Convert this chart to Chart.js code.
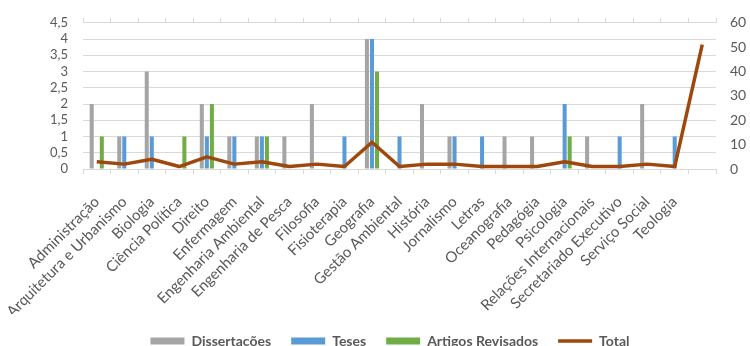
<!DOCTYPE html>
<html>
<head>
<meta charset="utf-8">
<script src="https://cdn.jsdelivr.net/npm/chart.js@4"></script>
<style>
  html, body { margin: 0; padding: 0; background: #fff; }
  #wrap { width: 750px; height: 346px; position: relative; }
</style>
</head>
<body>
<div id="wrap"><canvas id="chart"></canvas></div>
<script>
// cursos
const categories = ['Administração', 'Arquitetura e Urbanismo', 'Biologia', 'Ciência Política', 'Direito',
    'Enfermagem', 'Engenharia Ambiental', 'Engenharia de Pesca', 'Filosofia', 'Fisioterapia', 'Geografia',
    'Gestão Ambiental', 'História', 'Jornalismo', 'Letras', 'Oceanografia', 'Pedagógia', 'Psicologia',
    'Relações Internacionais', 'Secretariado Executivo', 'Serviço Social', 'Teologia', ''];

const dissertacoes = [2, 1, 3, 0, 2, 1, 1, 1, 2, 0, 4, 0, 2, 1, 0, 1, 1, 0, 1, 0, 2, 0, null];
const teses        = [0, 1, 1, 0, 1, 1, 1, 0, 0, 1, 4, 1, 0, 1, 1, 0, 0, 2, 0, 1, 0, 1, null];
const artigos      = [1, 0, 0, 1, 2, 0, 1, 0, 0, 0, 3, 0, 0, 0, 0, 0, 0, 1, 0, 0, 0, 0, null];
const total        = [3, 2, 4, 1, 5, 2, 3, 1, 2, 1, 11, 1, 2, 2, 1, 1, 1, 3, 1, 1, 2, 1, 51];

const leftTicks = [0, 0.5, 1, 1.5, 2, 2.5, 3, 3.5, 4, 4.5];
const rightTicks = [0, 10, 20, 30, 40, 50, 60];

const textColor = '#595959';
const gridColor = '#D9D9D9';
const fontFamily = 'Lato, "Open Sans", sans-serif';

function barSet(label, data, color) {
    return {
        type: 'bar',
        label: label,
        data: data,
        backgroundColor: color,
        borderWidth: 0,
        yAxisID: 'y',
        order: 1,
        categoryPercentage: 0.55,
        barPercentage: 0.8
    };
}

const ctx = document.getElementById('chart').getContext('2d');
new Chart(ctx, {
    type: 'bar',
    data: {
        labels: categories,
        datasets: [
            barSet('Dissertações', dissertacoes, '#A5A5A5'),
            barSet('Teses', teses, '#5B9BD5'),
            barSet('Artigos Revisados', artigos, '#70AD47'),
            {
                type: 'line',
                label: 'Total',
                data: total,
                borderColor: '#9E480E',
                backgroundColor: '#9E480E',
                borderWidth: 3.5,
                pointRadius: 0,
                tension: 0,
                borderJoinStyle: 'round',
                yAxisID: 'y1',
                order: 0
            }
        ]
    },
    options: {
        responsive: true,
        maintainAspectRatio: false,
        animation: false,
        layout: { padding: { left: 30, right: 0, top: 4, bottom: -12 } },
        plugins: {
            tooltip: { enabled: false },
            legend: {
                position: 'bottom',
                labels: {
                    sort: (a, b) => a.datasetIndex - b.datasetIndex,
                    usePointStyle: true,
                    pointStyleWidth: 34,
                    boxHeight: 7,
                    padding: 20,
                    color: textColor,
                    font: { family: fontFamily, size: 14, weight: 'bold' },
                    generateLabels: (chart) => {
                        const items = Chart.defaults.plugins.legend.labels.generateLabels(chart);
                        items.forEach(item => {
                            item.pointStyle = item.datasetIndex === 3 ? 'line' : 'rect';
                            if (item.datasetIndex !== 3) item.lineWidth = 0;
                        });
                        return items;
                    }
                }
            }
        },
        scales: {
            x: {
                offset: true,
                afterFit: (axis) => { axis.height = 145; },
                grid: { offset: true, drawOnChartArea: false, color: gridColor, tickLength: 5 },
                border: { color: gridColor },
                ticks: {
                    color: textColor,
                    font: { family: fontFamily, size: 15 },
                    autoSkip: false,
                    maxRotation: 45,
                    minRotation: 45,
                    padding: 19
                }
            },
            x2: {
                position: 'top',
                offset: true,
                labels: categories,
                grid: { offset: true, drawOnChartArea: false, color: gridColor, tickLength: 5 },
                border: { display: false },
                ticks: { display: false }
            },
            y: {
                position: 'left',
                min: 0,
                max: 4.5,
                afterBuildTicks: (axis) => { axis.ticks = leftTicks.map(v => ({ value: v })); },
                afterFit: (axis) => { axis.width = 53; },
                grid: { color: gridColor, lineWidth: 1, drawTicks: false },
                border: { display: false },
                ticks: {
                    color: textColor,
                    font: { family: fontFamily, size: 13 },
                    padding: 15,
                    autoSkip: false,
                    callback: (v) => String(v).replace('.', ',')
                }
            },
            y1: {
                position: 'right',
                min: 0,
                max: 60,
                afterBuildTicks: (axis) => { axis.ticks = rightTicks.map(v => ({ value: v })); },
                afterFit: (axis) => { axis.width = 34; },
                grid: { drawOnChartArea: false, drawTicks: false },
                border: { display: false },
                ticks: {
                    color: textColor,
                    font: { family: fontFamily, size: 14 },
                    padding: 14,
                    autoSkip: false
                }
            }
        }
    }
});
</script>
</body>
</html>
